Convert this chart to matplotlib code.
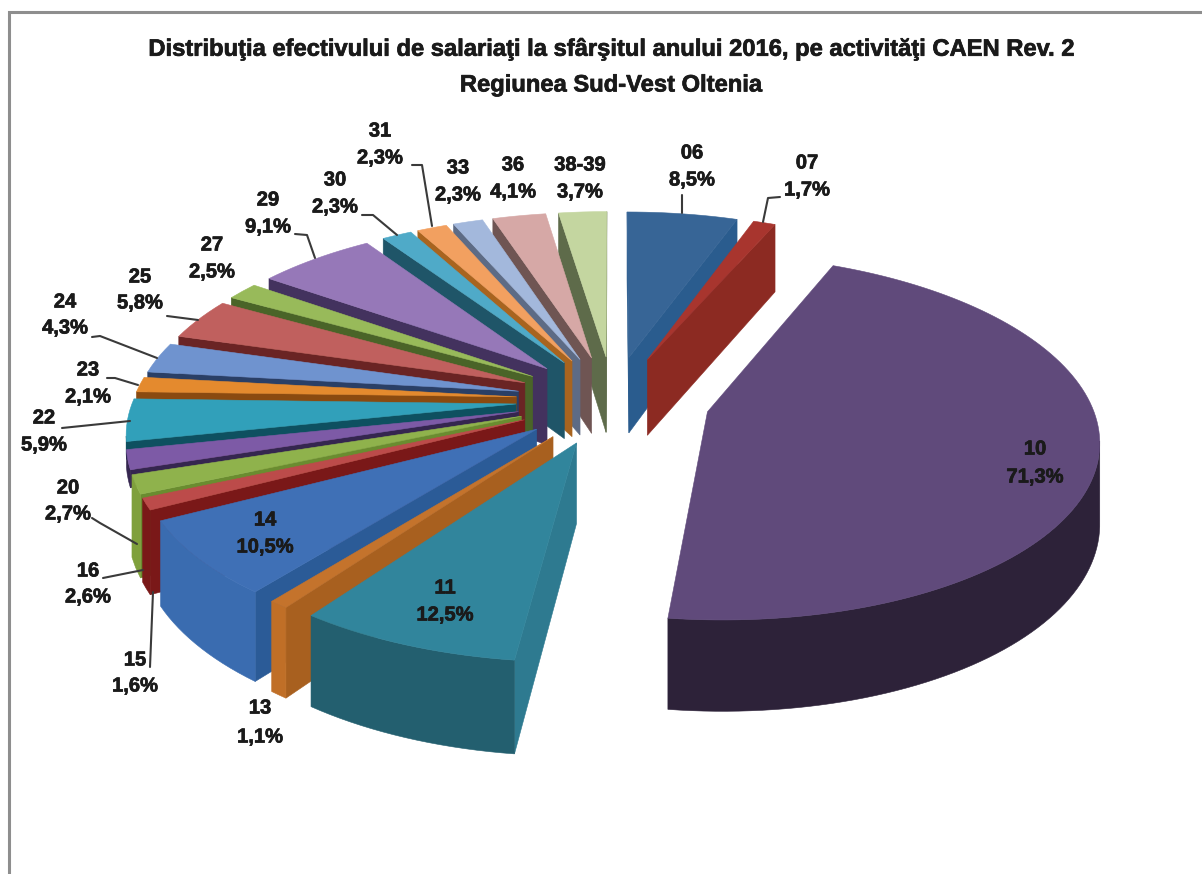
import numpy as np
import matplotlib
matplotlib.use('Agg')
import matplotlib.pyplot as plt
import matplotlib.patheffects as pe
from matplotlib.patches import Polygon

# activity codes and shares as printed on the chart
codes = ['06', '07', '10', '11', '13', '14', '15', '16', '20', '22', '23',
         '24', '25', '27', '29', '30', '31', '33', '36', '38-39']
values = [8.5, 1.7, 71.3, 12.5, 1.1, 10.5, 1.6, 2.6, 2.7, 5.9, 2.1,
          4.3, 5.8, 2.5, 9.1, 2.3, 2.3, 2.3, 4.1, 3.7]

title_lines = ['Distribuţia efectivului de salariaţi la sfârşitul anului 2016, pe activităţi CAEN Rev. 2',
               'Regiunea Sud-Vest Oltenia']

top_colors = ['#376596', '#A8352E', '#604A7B', '#31859C', '#C4732C', '#3F70B6', '#BC4B4A',
              '#8FB24C', '#7D5AA6', '#31A0BA', '#E48A2E', '#6F93CF', '#C0605E', '#98BA5A',
              '#9678B8', '#4FAAC8', '#F2A060', '#A3B8DC', '#D6A8A6', '#C4D6A0']
cut_colors = ['#2A5C8E', '#8C2A22', '#2D2239', '#2E7A90', '#A8601F', '#2B5B97', '#7A1818',
              '#6A8C30', '#35264F', '#0E5060', '#8A4A10', '#2A3F66', '#6A2424', '#4A6428',
              '#43325E', '#1F5568', '#A8641F', '#5D6B85', '#6F5553', '#5E6B4A']
arc_colors = ['#2A5C8E', '#8C2A22', '#2D2239', '#235F6F', '#C06F27', '#3A6CB0', '#7A1818',
              '#7FA03C', '#35264F', '#0E5060', '#8A4A10', '#2A3F66', '#6A2424', '#4A6428',
              '#43325E', '#1F5568', '#A8641F', '#5D6B85', '#6F5553', '#5E6B4A']

# these two only show a thin strip of side in the original
shallow = {'20': 0.22, '22': 0.22}

# label centres in pixels (x, y of first line, y of second line)
label_pos = {'06': (692, 153, 180), '07': (807, 163, 190), '10': (1035, 449, 477),
             '11': (445, 588, 615), '13': (260, 708, 737), '14': (265, 520, 547),
             '15': (135, 660, 686), '16': (88, 571, 597), '20': (68, 488, 514),
             '22': (44, 418, 445), '23': (88, 370, 397), '24': (65, 302, 328),
             '25': (140, 277, 303), '27': (212, 245, 272), '29': (268, 200, 227),
             '30': (335, 180, 207), '31': (380, 131, 158), '33': (458, 168, 195),
             '36': (513, 165, 192), '38-39': (580, 165, 192)}

leaders = [[(682, 195), (682, 213)],
           [(780, 197), (768, 198), (763, 222)],
           [(412, 165), (422, 165), (432, 226)],
           [(362, 215), (373, 215), (397, 235)],
           [(295, 234), (307, 235), (315, 258)],
           [(167, 316), (198, 320)],
           [(92, 337), (100, 336), (157, 358)],
           [(107, 378), (115, 378), (138, 385)],
           [(62, 428), (130, 421)],
           [(92, 518), (100, 523), (137, 544)],
           [(103, 578), (143, 570)],
           [(150, 667), (153, 592)]]

cx, cy = 613, 400
radius = 383
explode = 97
tilt = 0.46
height = 78
persp = 2800


def project(X, Y):
    f = 1 / (1 + Y / persp)
    return cx + X * f, cy - Y * tilt * f, height * f


total = sum(values)
ends = np.cumsum(values) / total * 2 * np.pi
starts = ends - np.array(values) / total * 2 * np.pi
mids = (starts + ends) / 2

plt.rcParams['font.family'] = ['Liberation Sans', 'DejaVu Sans']
fig = plt.figure(figsize=(12.02, 8.74), dpi=100)
ax = fig.add_axes([0, 0, 1, 1])
ax.set_xlim(0, 1202)
ax.set_ylim(874, 0)
ax.axis('off')

# frame of the pasted chart
ax.plot([9, 9, 1202], [874, 12, 12], color='#8E8E8E', lw=2.2, solid_joinstyle='miter')

# back slices first so the front ones cover them
for i in np.argsort(-np.cos(mids)):
    ex, ey = explode * np.sin(mids[i]), explode * np.cos(mids[i])
    n = max(3, int(np.degrees(ends[i] - starts[i]) / 1.5))
    th = np.linspace(starts[i], ends[i], n)
    X = np.r_[ex, ex + radius * np.sin(th)]
    Y = np.r_[ey, ey + radius * np.cos(th)]
    sx, sy, h = project(X, Y)
    h = h * shallow.get(codes[i], 1)
    m = len(sx)

    # the two cut faces
    for j, k in ((0, 1), (m - 1, 0)):
        if sx[k] - sx[j] < 0:
            quad = [(sx[j], sy[j]), (sx[k], sy[k]), (sx[k], sy[k] + h[k]), (sx[j], sy[j] + h[j])]
            ax.add_patch(Polygon(quad, closed=True, fc=cut_colors[i], ec=cut_colors[i], lw=0.4))

    # outer wall, only the part that faces the viewer
    front = [j for j in range(1, m - 1) if sx[j + 1] - sx[j] < 0]
    if front:
        idx = front + [front[-1] + 1]
        wall = np.r_[np.c_[sx[idx], sy[idx]], np.c_[sx[idx], sy[idx] + h[idx]][::-1]]
        ax.add_patch(Polygon(wall, closed=True, fc=arc_colors[i], ec=arc_colors[i], lw=0.4))

    ax.add_patch(Polygon(np.c_[sx, sy], closed=True, fc=top_colors[i], ec=top_colors[i], lw=0.4))

for pts in leaders:
    xs, ys = zip(*pts)
    ax.plot(xs, ys, color='#3A3A3A', lw=1.5, solid_capstyle='round')

heavy = [pe.withStroke(linewidth=0.5, foreground='#1A1A1A')]
for code, val in zip(codes, values):
    x, y1, y2 = label_pos[code]
    share = f'{val:.1f}%'.replace('.', ',')
    ax.text(x, y1, code, ha='center', va='center', fontsize=14.5, fontweight='bold',
            color='#1A1A1A', path_effects=heavy)
    ax.text(x, y2, share, ha='center', va='center', fontsize=14.5, fontweight='bold',
            color='#1A1A1A', path_effects=heavy)

ax.text(611, 49, title_lines[0], ha='center', va='center', fontsize=17.1, fontweight='bold',
        color='#1A1A1A', path_effects=heavy)
ax.text(611, 85, title_lines[1], ha='center', va='center', fontsize=17.1, fontweight='bold',
        color='#1A1A1A', path_effects=heavy)

fig.savefig('out.png', dpi=100, facecolor='white')
